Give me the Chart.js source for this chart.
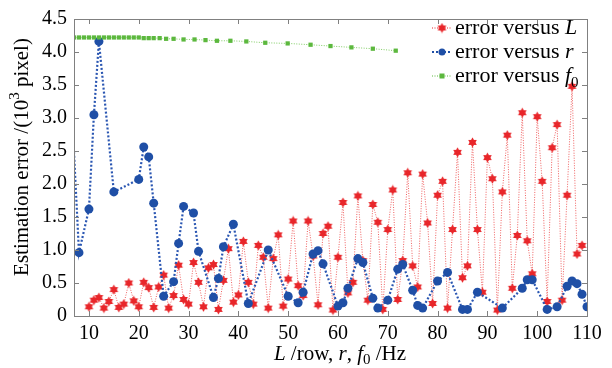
<!DOCTYPE html>
<html>
<head>
<meta charset="utf-8">
<script src="https://cdn.jsdelivr.net/npm/chart.js@4.4.1/dist/chart.umd.min.js"></script>
<style>
  html, body { margin: 0; padding: 0; background: #fff; }
  #wrap { position: relative; width: 612px; height: 368px; }
</style>
</head>
<body>
<div id="wrap"><canvas id="chart" width="612" height="368"></canvas></div>
<script>
// error versus L (row)
const lX = [10, 11, 12, 13, 14, 15, 16, 17, 18, 19, 20, 21, 22, 23, 24, 25, 26, 27, 28, 29,
  30, 31, 32, 33, 34, 35, 36, 37, 38, 39, 40, 41, 42, 43, 44, 45, 46, 47, 48, 49,
  50, 51, 52, 53, 54, 55, 56, 57, 58, 59, 60, 61, 62, 63, 64, 65, 66, 67, 68, 69,
  70, 71, 72, 73, 74, 75, 76, 77, 78, 79, 80, 81, 82, 83, 84, 85, 86, 87, 88, 89,
  90, 91, 92, 93, 94, 95, 96, 97, 98, 99, 100, 101, 102, 103, 104, 105, 106, 107, 108, 109];
const lErr = [0.14, 0.24, 0.28, 0.12, 0.22, 0.40, 0.13, 0.18, 0.50, 0.23, 0.14, 0.51, 0.43, 0.13, 0.44, 0.62, 0.12, 0.31, 0.77, 0.25,
  0.18, 0.81, 0.51, 0.14, 0.73, 0.78, 0.10, 0.54, 1.02, 0.21, 0.32, 1.13, 0.51, 0.18, 1.07, 0.89, 0.12, 0.87, 1.23, 0.15,
  0.56, 1.44, 0.46, 0.31, 1.44, 0.91, 0.17, 1.25, 1.36, 0.09, 0.89, 1.72, 0.35, 0.51, 1.82, 0.84, 0.24, 1.69, 1.42, 0.10,
  1.31, 1.91, 0.25, 0.84, 2.17, 0.76, 0.44, 2.15, 1.41, 0.19, 1.83, 2.04, 0.12, 1.31, 2.48, 0.58, 0.76, 2.63, 1.31, 0.36,
  2.40, 2.08, 0.09, 1.88, 2.74, 0.42, 1.22, 3.08, 1.14, 0.64, 3.02, 2.04, 0.22, 2.55, 2.90, 0.24, 1.83, 3.48, 0.94, 1.07];

// error versus r
const rX = [6, 8, 10, 11, 12, 15, 20, 21, 22, 23, 25, 27, 28, 29, 31, 32, 35, 36, 37, 39,
  42, 46, 50, 52, 53, 55, 56, 57, 60, 61, 62, 64, 65, 67, 68, 70, 72, 73, 75, 76,
  77, 80, 82, 85, 86, 88, 93, 97, 98, 99, 102, 104, 106, 107, 108, 109, 110];
const rErr = [4.0, 0.96, 1.62, 3.05, 4.16, 1.88, 2.07, 2.56, 2.41, 1.71, 0.30, 0.52, 1.10, 1.66, 1.56, 0.98, 0.28, 0.57, 1.05, 1.39,
  0.19, 1.00, 0.30, 0.20, 0.36, 0.94, 0.99, 0.79, 0.15, 0.20, 0.42, 0.87, 0.81, 0.27, 0.12, 0.24, 0.71, 0.78, 0.39, 0.16,
  0.12, 0.53, 0.66, 0.10, 0.10, 0.36, 0.12, 0.42, 0.55, 0.55, 0.10, 0.14, 0.45, 0.53, 0.49, 0.33, 0.14];

// error versus f0
const fX = [7, 8, 9, 10, 11, 12, 13, 14, 15, 16, 17, 18, 19, 20, 21, 22, 23, 24.2, 25.5, 27,
  29, 31.2, 33.4, 35.7, 38.4, 41.6, 45.4, 49.9, 54.5, 58.5, 62.7, 67, 71.6];
const fErr = [4.22, 4.22, 4.22, 4.22, 4.22, 4.22, 4.22, 4.22, 4.22, 4.22, 4.22, 4.22, 4.22, 4.22, 4.21, 4.21, 4.21, 4.21, 4.20, 4.20,
  4.19, 4.19, 4.18, 4.17, 4.17, 4.16, 4.14, 4.13, 4.11, 4.09, 4.07, 4.05, 4.02];

const xTicks = [10, 20, 30, 40, 50, 60, 70, 80, 90, 100, 110];
const yTicks = [0, 0.5, 1.0, 1.5, 2.0, 2.5, 3.0, 3.5, 4.0, 4.5];

const serif = '"Liberation Serif", "Times New Roman", serif';
const red = "#e8262a";
const blue = "#1f4fa6";
const green = "#5cb83e";

function pts(xs, ys) {
    return xs.map((x, i) => ({ x: x, y: ys[i] }));
}

// filled six-pointed star marker
function starMarker(size, color) {
    const c = document.createElement("canvas");
    c.width = size;
    c.height = size;
    const g = c.getContext("2d");
    const cx = size / 2, cy = size / 2, r = size / 2 - 0.5;
    g.fillStyle = color;
    for (const rot of [-Math.PI / 2, Math.PI / 2]) {
        g.beginPath();
        for (let k = 0; k < 3; k++) {
            const a = rot + k * 2 * Math.PI / 3;
            const px = cx + r * Math.cos(a), py = cy + r * Math.sin(a);
            if (k === 0) g.moveTo(px, py); else g.lineTo(px, py);
        }
        g.closePath();
        g.fill();
    }
    return c;
}
const star = starMarker(11, red);

function drawRich(ctx, parts, x, y, align, size) {
    let total = 0;
    parts.forEach((p) => {
        const fs = p.sub || p.sup ? Math.round(size * 0.7) : size;
        p.font = `${p.italic ? "italic " : ""}${fs}px ${serif}`;
        ctx.font = p.font;
        p.w = ctx.measureText(p.t).width;
        total += p.w;
    });
    let cx = align === "right" ? x - total : align === "center" ? x - total / 2 : x;
    parts.forEach((p) => {
        ctx.font = p.font;
        const dy = p.sub ? size * 0.3 : p.sup ? -size * 0.35 : 0;
        ctx.fillText(p.t, cx, y + dy);
        cx += p.w;
    });
}

const framePlugin = {
    id: "frame",
    afterDatasetsDraw(chart) {
        const ctx = chart.ctx;
        const { left, right, top, bottom } = chart.chartArea;
        const xs = chart.scales.x, ys = chart.scales.y;
        ctx.save();
        ctx.strokeStyle = "#808080";
        ctx.lineWidth = 1;
        ctx.strokeRect(Math.round(left) + 0.5, Math.round(top) + 0.5,
            Math.round(right - left), Math.round(bottom - top));
        ctx.beginPath();
        xTicks.forEach((v) => {
            const p = Math.round(xs.getPixelForValue(v)) + 0.5;
            ctx.moveTo(p, bottom); ctx.lineTo(p, bottom - 5);
            ctx.moveTo(p, top); ctx.lineTo(p, top + 5);
        });
        yTicks.forEach((v) => {
            const p = Math.round(ys.getPixelForValue(v)) + 0.5;
            ctx.moveTo(left, p); ctx.lineTo(left + 5, p);
            ctx.moveTo(right, p); ctx.lineTo(right - 5, p);
        });
        ctx.stroke();

        // legend, top right inside the plot
        const rows = [
            { color: red, dash: [1, 1.5], lw: 1, mark: "star", parts: [{ t: "error versus " }, { t: "L", italic: true }] },
            { color: blue, dash: [2, 2], lw: 2, mark: "circle", parts: [{ t: "error versus " }, { t: "r", italic: true }] },
            { color: green, dash: [1, 1.5], lw: 1, mark: "rect", parts: [{ t: "error versus " }, { t: "f", italic: true }, { t: "0", sub: true }] },
        ];
        rows.forEach((row, i) => {
            const y = 28 + i * 24;
            ctx.strokeStyle = row.color;
            ctx.lineWidth = row.lw;
            ctx.setLineDash(row.dash);
            ctx.beginPath();
            ctx.moveTo(432, y); ctx.lineTo(452, y);
            ctx.stroke();
            ctx.setLineDash([]);
            ctx.fillStyle = row.color;
            if (row.mark === "star") ctx.drawImage(star, 442 - 5.5, y - 5.5);
            else if (row.mark === "circle") { ctx.beginPath(); ctx.arc(442, y, 3.5, 0, Math.PI * 2); ctx.fill(); }
            else ctx.fillRect(439.5, y - 2.5, 5, 5);
            ctx.fillStyle = "#000";
            ctx.textBaseline = "middle";
            drawRich(ctx, row.parts, 455, y, "left", 22);
        });

        // axis titles
        ctx.fillStyle = "#000";
        ctx.textBaseline = "middle";
        drawRich(ctx, [{ t: "L", italic: true }, { t: " /row, " }, { t: "r", italic: true }, { t: ", " },
            { t: "f", italic: true }, { t: "0", sub: true }, { t: " /Hz" }], 340, 354, "center", 21);

        ctx.translate(22, 157);
        ctx.rotate(-Math.PI / 2);
        drawRich(ctx, [{ t: "Estimation error /(10" }, { t: "3", sup: true }, { t: " pixel)" }], 0, 0, "center", 21);
        ctx.restore();
    },
};

new Chart(document.getElementById("chart"), {
    type: "line",
    data: {
        datasets: [
            {
                label: "error versus L",
                data: pts(lX, lErr),
                order: 3,
                borderColor: "rgba(236,70,70,0.85)",
                borderWidth: 1,
                borderDash: [1, 1.5],
                pointStyle: star,
                pointRadius: 5,
                pointBackgroundColor: red,
                pointBorderColor: red,
            },
            {
                label: "error versus r",
                data: pts(rX, rErr),
                order: 2,
                borderColor: "#2a56b2",
                borderWidth: 2.2,
                borderDash: [2, 2],
                pointStyle: "circle",
                pointRadius: 4.5,
                pointBackgroundColor: blue,
                pointBorderColor: blue,
                pointBorderWidth: 0,
            },
            {
                label: "error versus f0",
                data: pts(fX, fErr),
                order: 1,
                borderColor: "#7fcc62",
                borderWidth: 1,
                borderDash: [1, 1.5],
                pointStyle: "rect",
                pointRadius: 3,
                pointBackgroundColor: green,
                pointBorderColor: green,
                pointBorderWidth: 0,
            },
        ],
    },
    options: {
        responsive: false,
        animation: false,
        layout: { padding: { top: 17, right: 25, left: 0, bottom: 0 } },
        plugins: { legend: { display: false }, tooltip: { enabled: false } },
        scales: {
            x: {
                type: "linear",
                min: 7,
                max: 110,
                grid: { display: false, drawTicks: false },
                border: { display: false },
                afterFit(scale) { scale.height = 52; },
                afterBuildTicks(scale) { scale.ticks = xTicks.map((v) => ({ value: v })); },
                ticks: {
                    color: "#000",
                    padding: 6,
                    maxRotation: 0,
                    font: { family: serif, size: 20 },
                },
            },
            y: {
                min: 0,
                max: 4.5,
                grid: { display: false, drawTicks: false },
                border: { display: false },
                afterFit(scale) { scale.width = 74; },
                afterBuildTicks(scale) { scale.ticks = yTicks.map((v) => ({ value: v })); },
                ticks: {
                    color: "#000",
                    padding: 7,
                    font: { family: serif, size: 20 },
                    callback: (v) => (v === 0 ? "0" : v.toFixed(1)),
                },
            },
        },
    },
    plugins: [framePlugin],
});
</script>
</body>
</html>
